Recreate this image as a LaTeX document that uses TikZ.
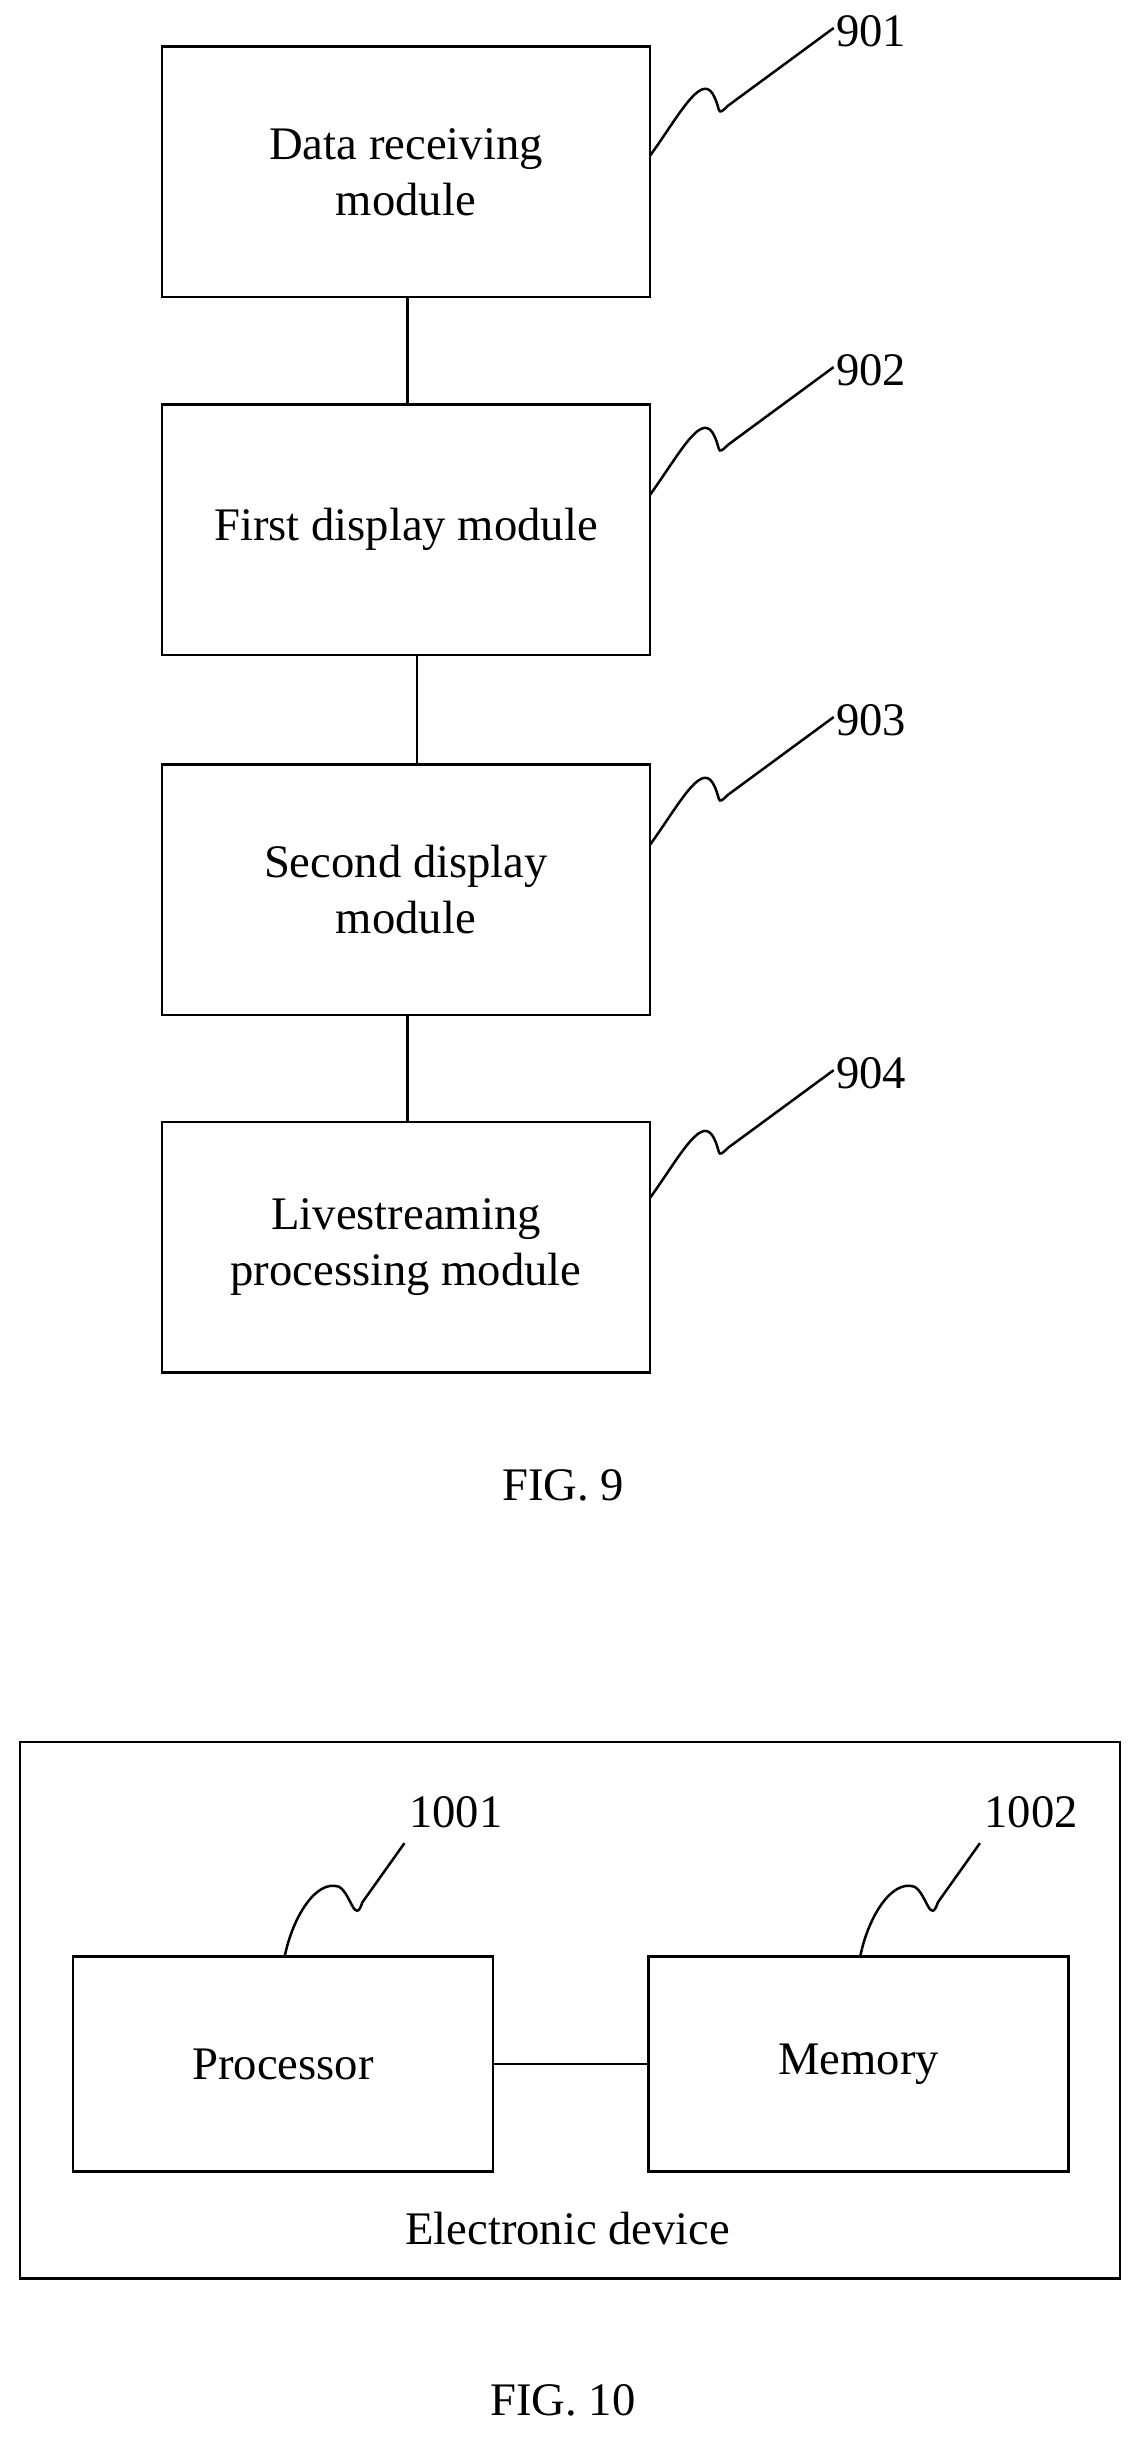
\documentclass[tikz,border=0pt]{standalone}
\usepackage{fontspec}
\setmainfont{Liberation Serif}
\begin{document}
\begin{tikzpicture}[x=1pt,y=-1pt,
 box/.style={draw,line width=1.6pt,minimum width=314pt,minimum height=161pt,align=center,font=\fontsize{30}{36}\selectfont},
 sbox/.style={draw,line width=1.6pt,minimum width=270pt,minimum height=138pt,align=center,font=\fontsize{30}{36}\selectfont},
 lbl/.style={font=\fontsize{30}{36}\selectfont},
 ln/.style={line width=1.6pt}]
\useasboundingbox (0,0) rectangle (735,1570);
\node[box] (b1) at (261,110.5) {Data receiving\\module};
\node[box] (b2) at (261,340.5) {First display module};
\node[box] (b3) at (261,572) {Second display\\module};
\node[box] (b4) at (261,802) {Livestreaming\\processing module};
\draw[ln] (262,191) -- (262,260);
\draw[ln] (268,421) -- (268,491);
\draw[ln] (262,653) -- (262,721);
\foreach \n/\y/\t in {1/100/901,2/318/902,3/543/903,4/770/904}{
 \coordinate (s\n) at (418,\y);
 \draw[ln] (s\n) .. controls +(18,-25) and +(-8,-12) .. ++(40,-40) .. controls +(6,10) and +(-8,8) .. ++(10,8) -- ++(68,-50);
 \node[lbl] (l\n) at (560,\y-80) {\t};
}
\node[lbl] (f9) at (362,955) {FIG. 9};
\node[draw,line width=1.6pt,minimum width=707pt,minimum height=345pt] (dev) at (366.5,1292.5) {};
\node[sbox] (p) at (182,1327) {Processor};
\node[sbox] (m) at (552,1327) {Memory};
\draw[ln] (p.east) -- (m.west);
\node[lbl] (ed) at (365,1433) {Electronic device};
\foreach \n/\x/\t in {5/183/1001,6/553/1002}{
 \coordinate (s\n) at (\x,1258);
 \draw[ln] (s\n) .. controls +(5,-25) and +(-15,-5) .. ++(35,-45) .. controls +(8,5) and +(-5,15) .. ++(15,10) -- ++(27,-38);
 \node[lbl] (l\n) at (\x+110,1165) {\t};
}
\node[lbl] (f10) at (362,1543) {FIG. 10};
\end{tikzpicture}
\end{document}
